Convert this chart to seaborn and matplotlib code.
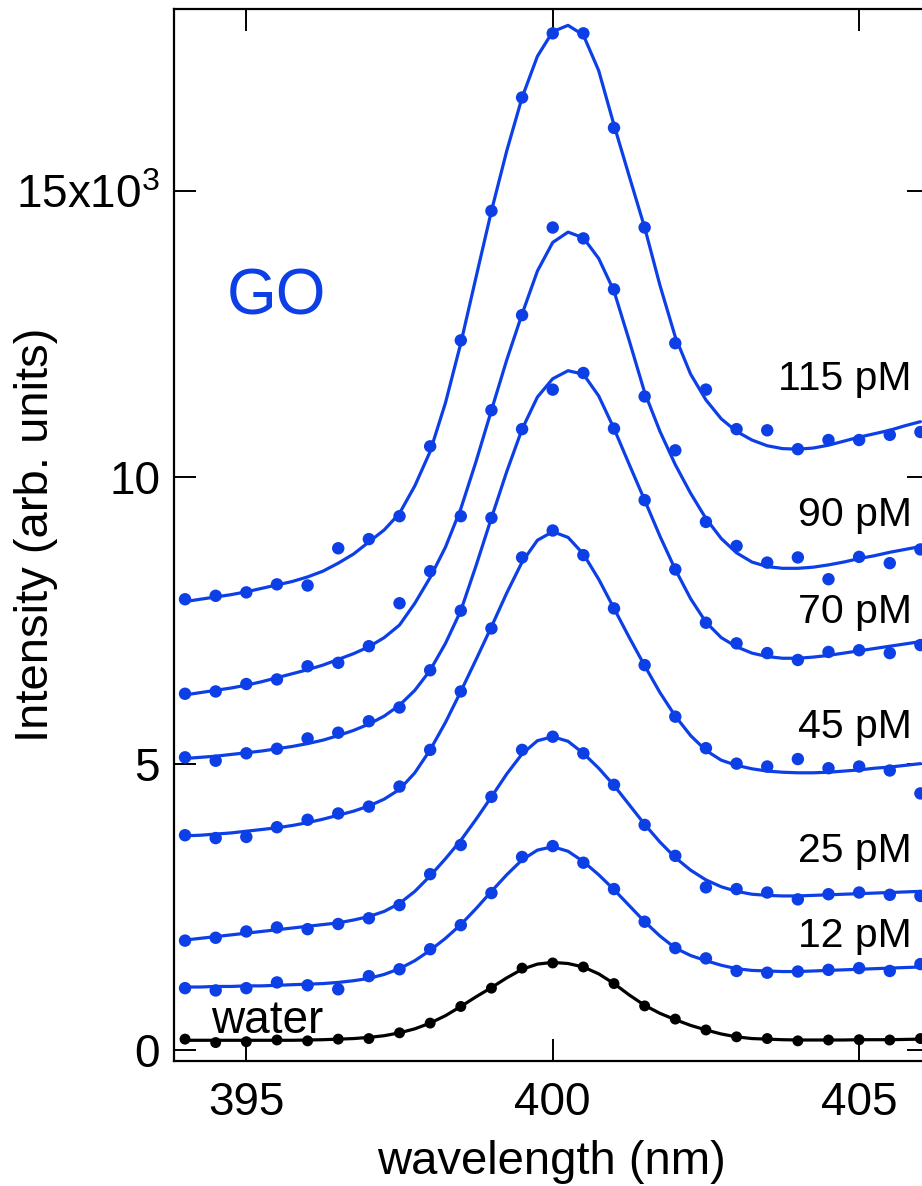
import numpy as np
import pandas as pd
import matplotlib
matplotlib.use("Agg")
import matplotlib.pyplot as plt
import seaborn as sns

# ---------------- data (intensity in units of 10^3) ----------------
wl_pts = [394.0, 394.5, 395.0, 395.5, 396.0, 396.5, 397.0, 397.5, 398.0, 398.5,
          399.0, 399.5, 400.0, 400.5, 401.0, 401.5, 402.0, 402.5, 403.0, 403.5,
          404.0, 404.5, 405.0, 405.5, 406.0]

pts_water = [0.19, 0.13, 0.145, 0.175, 0.16, 0.19, 0.20, 0.30, 0.47, 0.76, 1.08, 1.43, 1.52,
             1.45, 1.16, 0.77, 0.54, 0.35, 0.23, 0.20, 0.16, 0.175, 0.18, 0.175, 0.20]
pts_12 = [1.08, 1.04, 1.08, 1.18, 1.13, 1.06, 1.29, 1.41, 1.76, 2.18, 2.74, 3.37, 3.56,
          3.27, 2.81, 2.24, 1.78, 1.60, 1.38, 1.35, 1.37, 1.40, 1.43, 1.38, 1.50]
pts_25 = [1.91, 1.96, 2.07, 2.14, 2.11, 2.20, 2.30, 2.53, 3.07, 3.58, 4.42, 5.24, 5.47,
          5.18, 4.63, 3.93, 3.39, 2.84, 2.81, 2.75, 2.63, 2.72, 2.75, 2.71, 2.69]
pts_45 = [3.75, 3.70, 3.72, 3.89, 4.02, 4.13, 4.25, 4.60, 5.24, 6.26, 7.36, 8.60, 9.07,
          8.64, 7.71, 6.72, 5.82, 5.27, 5.00, 4.95, 5.08, 4.92, 4.95, 4.88, 4.48]
pts_70 = [5.11, 5.05, 5.18, 5.26, 5.44, 5.54, 5.74, 5.98, 6.63, 7.67, 9.29, 10.84, 11.53,
          11.82, 10.85, 9.60, 8.39, 7.46, 7.10, 6.93, 6.81, 6.95, 6.98, 6.93, 7.07]
pts_90 = [6.22, 6.26, 6.39, 6.47, 6.70, 6.76, 7.05, 7.80, 8.36, 9.32, 11.17, 12.83, 14.36,
          14.17, 13.28, 11.41, 10.47, 9.22, 8.80, 8.51, 8.60, 8.22, 8.61, 8.50, 8.74]
pts_115 = [7.87, 7.93, 7.99, 8.13, 8.11, 8.76, 8.92, 9.32, 10.54, 12.39, 14.65, 16.63, 17.75,
           17.75, 16.10, 14.36, 12.34, 11.53, 10.84, 10.82, 10.49, 10.65, 10.65, 10.74, 10.79]

wl_fit = [394.00, 394.25, 394.50, 394.75, 395.00, 395.25, 395.50, 395.75, 396.00, 396.25,
          396.50, 396.75, 397.00, 397.25, 397.50, 397.75, 398.00, 398.25, 398.50, 398.75,
          399.00, 399.25, 399.50, 399.75, 400.00, 400.25, 400.50, 400.75, 401.00, 401.25,
          401.50, 401.75, 402.00, 402.25, 402.50, 402.75, 403.00, 403.25, 403.50, 403.75,
          404.00, 404.25, 404.50, 404.75, 405.00, 405.25, 405.50, 405.75, 406.00]

fit_water = [0.17, 0.17, 0.17, 0.17, 0.17, 0.17, 0.17, 0.17, 0.175, 0.18,
             0.19, 0.20, 0.22, 0.25, 0.30, 0.37, 0.47, 0.60, 0.76, 0.93,
             1.09, 1.26, 1.41, 1.50, 1.53, 1.51, 1.45, 1.33, 1.16, 0.96,
             0.78, 0.64, 0.53, 0.43, 0.35, 0.28, 0.23, 0.20, 0.19, 0.18,
             0.175, 0.175, 0.175, 0.175, 0.18, 0.18, 0.18, 0.185, 0.19]
fit_12 = [1.10, 1.10, 1.11, 1.11, 1.12, 1.12, 1.13, 1.14, 1.15, 1.16,
          1.18, 1.21, 1.25, 1.32, 1.42, 1.56, 1.74, 1.95, 2.19, 2.47,
          2.77, 3.06, 3.32, 3.49, 3.55, 3.47, 3.29, 3.06, 2.80, 2.52,
          2.24, 1.99, 1.78, 1.65, 1.56, 1.48, 1.42, 1.39, 1.38, 1.37,
          1.37, 1.38, 1.39, 1.40, 1.41, 1.42, 1.43, 1.44, 1.45]
fit_25 = [1.92, 1.95, 1.98, 2.01, 2.04, 2.07, 2.10, 2.13, 2.16, 2.19,
          2.22, 2.27, 2.33, 2.42, 2.56, 2.77, 3.04, 3.34, 3.66, 4.03,
          4.42, 4.82, 5.17, 5.40, 5.47, 5.39, 5.18, 4.92, 4.62, 4.28,
          3.94, 3.63, 3.36, 3.14, 2.97, 2.85, 2.77, 2.72, 2.70, 2.69,
          2.69, 2.70, 2.71, 2.72, 2.73, 2.74, 2.75, 2.76, 2.77]
fit_45 = [3.74, 3.75, 3.77, 3.79, 3.82, 3.85, 3.88, 3.92, 3.97, 4.03,
          4.10, 4.17, 4.26, 4.38, 4.55, 4.84, 5.24, 5.72, 6.26, 6.82,
          7.39, 7.98, 8.52, 8.90, 9.05, 8.95, 8.66, 8.22, 7.71, 7.20,
          6.71, 6.24, 5.83, 5.49, 5.23, 5.06, 4.97, 4.91, 4.87, 4.85,
          4.84, 4.84, 4.85, 4.87, 4.89, 4.92, 4.94, 4.97, 5.00]
fit_70 = [5.09, 5.11, 5.13, 5.16, 5.19, 5.22, 5.26, 5.30, 5.35, 5.41,
          5.49, 5.58, 5.69, 5.83, 6.02, 6.28, 6.63, 7.10, 7.67, 8.46,
          9.29, 10.10, 10.84, 11.40, 11.72, 11.86, 11.80, 11.42, 10.85, 10.22,
          9.60, 8.97, 8.39, 7.88, 7.47, 7.20, 7.04, 6.93, 6.87, 6.84,
          6.84, 6.86, 6.89, 6.93, 6.97, 7.01, 7.05, 7.09, 7.13]
fit_90 = [6.20, 6.24, 6.28, 6.32, 6.37, 6.43, 6.50, 6.57, 6.64, 6.72,
          6.82, 6.92, 7.04, 7.20, 7.42, 7.80, 8.25, 8.78, 9.45, 10.28,
          11.17, 12.05, 12.85, 13.60, 14.10, 14.28, 14.18, 13.82, 13.25, 12.38,
          11.48, 10.80, 10.22, 9.72, 9.28, 8.93, 8.68, 8.52, 8.44, 8.41,
          8.41, 8.43, 8.47, 8.52, 8.58, 8.63, 8.69, 8.74, 8.79]
fit_115 = [7.83, 7.87, 7.91, 7.95, 8.00, 8.06, 8.12, 8.18, 8.26, 8.36,
           8.50, 8.66, 8.87, 9.08, 9.37, 9.85, 10.45, 11.30, 12.34, 13.50,
           14.65, 15.70, 16.63, 17.35, 17.78, 17.89, 17.72, 17.10, 16.15, 15.25,
           14.36, 13.35, 12.45, 11.80, 11.35, 11.02, 10.80, 10.65, 10.55, 10.50,
           10.49, 10.51, 10.56, 10.63, 10.70, 10.76, 10.82, 10.90, 10.97]

series_names = ["water", "12 pM", "25 pM", "45 pM", "70 pM", "90 pM", "115 pM"]
series_pts = [pts_water, pts_12, pts_25, pts_45, pts_70, pts_90, pts_115]
series_fit = [fit_water, fit_12, fit_25, fit_45, fit_70, fit_90, fit_115]

label_texts = ["115 pM", "90 pM", "70 pM", "45 pM", "25 pM", "12 pM"]
label_baselines = [11.52, 9.15, 7.45, 5.45, 3.28, 1.80]

x_ticks = [395, 400, 405]
y_ticks = [0, 5, 10, 15]
y_ticklabels = ["0", "5", "10", r"15x10$^{3}$"]

# ---------------- style ----------------
sns.set_theme(style="ticks")
plt.rcParams["font.family"] = ["Liberation Sans", "DejaVu Sans"]
plt.rcParams["mathtext.fontset"] = "custom"
plt.rcParams["mathtext.rm"] = "Liberation Sans"
plt.rcParams["mathtext.default"] = "regular"
plt.rcParams["text.color"] = "black"
plt.rcParams["axes.labelcolor"] = "black"

BLUE = "#0d3fe6"
BLACK = "#000000"
colors = [BLACK] + [BLUE] * 6

fig = plt.figure(figsize=(9.22, 11.86), dpi=100)
ax = fig.add_axes([174 / 922, (1186 - 1060.5) / 1186, 755 / 922, 1051.2 / 1186])

for name, pts, fit, col in zip(series_names, series_pts, series_fit, colors):
    df_fit = pd.DataFrame({"wavelength": wl_fit, "intensity": fit})
    df_pts = pd.DataFrame({"wavelength": wl_pts, "intensity": pts})
    sns.lineplot(data=df_fit, x="wavelength", y="intensity", color=col,
                 linewidth=2.3, estimator=None, sort=True, ax=ax, zorder=2)
    ms = 80 if col == BLUE else 62
    sns.scatterplot(data=df_pts, x="wavelength", y="intensity", color=col,
                    s=ms, linewidth=0, edgecolor="none", ax=ax, zorder=3)

ax.set_xlim(393.82, 406.14)
ax.set_ylim(-0.183, 18.17)

ax.set_xticks(x_ticks)
ax.set_xticklabels([str(t) for t in x_ticks])
ax.set_yticks(y_ticks)
ax.set_yticklabels(y_ticklabels)
ax.tick_params(axis="both", direction="in", length=16, width=1.4,
               top=True, right=True, labelsize=33, colors="black")
ax.tick_params(axis="x", pad=15)
ax.tick_params(axis="y", pad=10)
for sp in ax.spines.values():
    sp.set_linewidth(1.6)
    sp.set_color("black")

ax.set_xlabel("wavelength (nm)", fontsize=34, color="black")
ax.set_ylabel("Intensity (arb. units)", fontsize=34, color="black")
ax.xaxis.set_label_coords(0.4993, -0.076)
ax.yaxis.set_label_coords(-0.154, 0.5)

ax.text(395.49, 13.13, "GO", color=BLUE, fontsize=46, ha="center", va="center")
ax.text(394.43, 0.30, "water", color="black", fontsize=33, ha="left", va="baseline")
for txt, yb in zip(label_texts, label_baselines):
    ax.text(405.86, yb, txt, color="black", fontsize=29.5, ha="right", va="baseline")

fig.savefig("out.png", dpi=100)
